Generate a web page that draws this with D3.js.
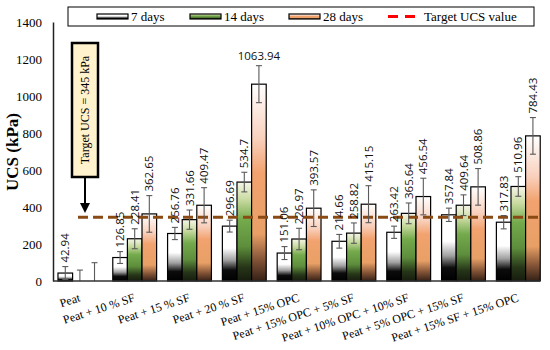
<!DOCTYPE html>
<html>
<head>
<meta charset="utf-8">
<style>
  body { margin: 0; background: #fff; }
  text { font-family: "Liberation Serif", "Times New Roman", serif; }
  .vlabel { font-family: "Open Sans", "Liberation Sans", sans-serif; }
</style>
</head>
<body>
<script src="https://cdn.jsdelivr.net/npm/d3@7/dist/d3.min.js"></script>
<script>
// chart size
var width = 550;
var height = 350;

// data
var categories = ["Peat", "Peat + 10 % SF", "Peat + 15 % SF", "Peat + 20 % SF", "Peat + 15% OPC",
  "Peat + 15% OPC + 5% SF", "Peat + 10% OPC + 10% SF", "Peat + 5% OPC + 15% SF", "Peat + 15% SF + 15% OPC"];
var seriesNames = ["7 days", "14 days", "28 days"];
var days7 = [42.94, 126.85, 256.76, 296.69, 151.06, 214.66, 263.42, 357.84, 317.83];
var days14 = [0, 228.41, 331.66, 534.7, 226.97, 258.82, 365.64, 409.64, 510.96];
var days28 = [0, 362.65, 409.47, 1063.94, 393.57, 415.15, 456.54, 508.86, 784.43];
var err7 = [35, 32, 33, 32, 35, 37, 33, 36, 36];
var err14 = [59, 54, 52, 53, 58, 55, 56, 56, 53];
var err28 = [99, 99, 95, 100, 99, 100, 99, 99, 99];
var targetUCS = 345;
var yTicks = [0, 200, 400, 600, 800, 1000, 1200, 1400];

var values = [days7, days14, days28];
var errors = [err7, err14, err28];

// plot area
var plot = { left: 53, right: 540, top: 22, bottom: 281 };

var svg = d3.select('body').append('svg')
  .attr('width', width)
  .attr('height', height);

var x0 = d3.scaleBand()
  .domain(categories)
  .range([52.5, 545.7])
  .paddingInner(0.2)
  .paddingOuter(0.1);

var x1 = d3.scaleBand()
  .domain(seriesNames)
  .range([0, x0.bandwidth()]);

var y = d3.scaleLinear()
  .domain([0, 1400])
  .range([plot.bottom, plot.top]);

// gradients for the three series
var defs = svg.append('defs');
var gradStops = [
  [[0, '#ffffff'], [0.4, '#ffffff'], [0.62, '#a0a0a0'], [0.8, '#0c0c0c'], [1, '#000000']],
  [[0, '#f6f6e8'], [0.18, '#c8daa0'], [0.38, '#74aa4c'], [0.65, '#5e8e3c'], [0.86, '#263518'], [1, '#161c0e']],
  [[0, '#ffffff'], [0.28, '#f9d0bc'], [0.45, '#f2a26e'], [0.76, '#e8a066'], [0.9, '#7e5034'], [1, '#342016']]
];
gradStops.forEach(function(stops, i) {
  var g = defs.append('linearGradient')
    .attr('id', 'grad' + i)
    .attr('x1', 0).attr('y1', 0).attr('x2', 0).attr('y2', 1);
  stops.forEach(function(s) {
    g.append('stop').attr('offset', s[0]).attr('stop-color', s[1]);
  });
});
defs.append('filter').attr('id', 'glow')
  .attr('x', '-10%').attr('y', '-200%').attr('width', '120%').attr('height', '500%')
  .append('feGaussianBlur').attr('stdDeviation', 4);

// y axis: line from the axis, labels drawn from the same scale
var gy = svg.append('g')
  .attr('transform', 'translate(' + plot.left + ',0)')
  .call(d3.axisLeft(y).tickValues(yTicks).tickSize(0).tickFormat(''));
gy.select('.domain').attr('stroke', '#222').attr('stroke-width', 1.5);

svg.append('g').selectAll('text')
  .data(yTicks)
  .enter().append('text')
  .attr('x', plot.left - 11)
  .attr('y', function(d) { return y(d); })
  .attr('dy', '0.35em')
  .attr('text-anchor', 'end')
  .attr('font-size', 13)
  .text(function(d) { return d; });

svg.append('text')
  .attr('transform', 'translate(18,152) rotate(-90)')
  .attr('text-anchor', 'middle')
  .attr('font-size', 17)
  .attr('font-weight', 'bold')
  .text('UCS (kPa)');

// glow behind the target line
svg.append('line')
  .attr('x1', plot.left).attr('x2', plot.right + 5)
  .attr('y1', y(targetUCS)).attr('y2', y(targetUCS))
  .attr('stroke', '#ff8ccc')
  .attr('stroke-width', 14)
  .attr('opacity', 0.22)
  .attr('filter', 'url(#glow)');

// bars
var groups = svg.append('g').selectAll('g')
  .data(categories)
  .enter().append('g')
  .attr('transform', function(d) { return 'translate(' + x0(d) + ',0)'; });

seriesNames.forEach(function(s, si) {
  groups.append('rect')
    .filter(function(d, i) { return values[si][i] > 0; })
    .attr('x', x1(s))
    .attr('width', x1.bandwidth())
    .attr('y', function(d) { return y(values[si][categories.indexOf(d)]); })
    .attr('height', function(d) { return y(0) - y(values[si][categories.indexOf(d)]); })
    .attr('fill', 'url(#grad' + si + ')')
    .attr('stroke', '#000')
    .attr('stroke-width', 1.2);
});

// target line
svg.append('line')
  .attr('x1', 78).attr('x2', plot.right)
  .attr('y1', y(targetUCS)).attr('y2', y(targetUCS))
  .attr('stroke', '#8a4a14')
  .attr('stroke-width', 3)
  .attr('stroke-dasharray', '10,5');

// error bars and value labels
seriesNames.forEach(function(s, si) {
  categories.forEach(function(c, i) {
    var v = values[si][i], e = errors[si][i];
    var cx = x0(c) + x1(s) + x1.bandwidth() / 2;
    var lo = Math.max(0, v - e), hi = v + e;
    var eg = svg.append('g').attr('stroke', '#5a5a5a').attr('stroke-width', 1.1);
    eg.append('line').attr('x1', cx).attr('x2', cx).attr('y1', y(lo)).attr('y2', y(hi));
    eg.append('line').attr('x1', cx - 3).attr('x2', cx + 3).attr('y1', y(hi)).attr('y2', y(hi));
    if (v - e > 0) {
      eg.append('line').attr('x1', cx - 3).attr('x2', cx + 3).attr('y1', y(lo)).attr('y2', y(lo));
    }
    if (v <= 0) return;
    var label = svg.append('text')
      .attr('class', 'vlabel')
      .attr('font-size', 11.5)
      .attr('fill', '#111')
      .text(v);
    if (y(hi) - 50 < plot.top) {
      label.attr('x', cx).attr('y', y(hi) - 6).attr('text-anchor', 'middle');
    } else {
      label.attr('transform', 'translate(' + (cx + 4) + ',' + (y(hi) - 4) + ') rotate(-90)');
    }
  });
});

// x axis line and labels
svg.append('line')
  .attr('x1', plot.left).attr('x2', plot.right)
  .attr('y1', plot.bottom).attr('y2', plot.bottom)
  .attr('stroke', '#333').attr('stroke-width', 1.5);

svg.append('g').selectAll('text')
  .data(categories)
  .enter().append('text')
  .attr('transform', function(d) {
    return 'translate(' + (x0(d) + x0.bandwidth() / 2 + 1) + ',301) rotate(-18)';
  })
  .attr('text-anchor', 'end')
  .attr('font-size', 12)
  .text(function(d) { return d; });

// annotation box with arrow
var note = svg.append('g');
note.append('rect')
  .attr('x', 72).attr('y', 43).attr('width', 26).attr('height', 134)
  .attr('fill', '#fff2cc').attr('stroke', '#000').attr('stroke-width', 2.5);
note.append('text')
  .attr('transform', 'translate(89,110) rotate(-90)')
  .attr('text-anchor', 'middle')
  .attr('font-size', 12)
  .text('Target UCS = 345 kPa');
note.append('line')
  .attr('x1', 85).attr('x2', 85).attr('y1', 178).attr('y2', 205)
  .attr('stroke', '#000').attr('stroke-width', 2);
note.append('path')
  .attr('d', 'M80,203 L90,203 L85,213 Z')
  .attr('fill', '#000');

// legend
var legend = svg.append('g');
legend.append('rect')
  .attr('x', 68).attr('y', 7).attr('width', 466).attr('height', 19)
  .attr('fill', '#fff').attr('stroke', '#000').attr('stroke-width', 1);
var legendX = [97, 190, 289];
seriesNames.forEach(function(s, si) {
  legend.append('rect')
    .attr('x', legendX[si]).attr('y', 14).attr('width', 31).attr('height', 5)
    .attr('fill', 'url(#grad' + si + ')')
    .attr('stroke', '#000').attr('stroke-width', 1.2);
  legend.append('text')
    .attr('x', legendX[si] + 34).attr('y', 21)
    .attr('font-size', 13)
    .text(s);
});
legend.append('line')
  .attr('x1', 388).attr('x2', 419).attr('y1', 16.5).attr('y2', 16.5)
  .attr('stroke', '#ff0000').attr('stroke-width', 3)
  .attr('stroke-dasharray', '10,7');
legend.append('text')
  .attr('x', 424).attr('y', 21)
  .attr('font-size', 13)
  .text('Target UCS value');
</script>
</body>
</html>
